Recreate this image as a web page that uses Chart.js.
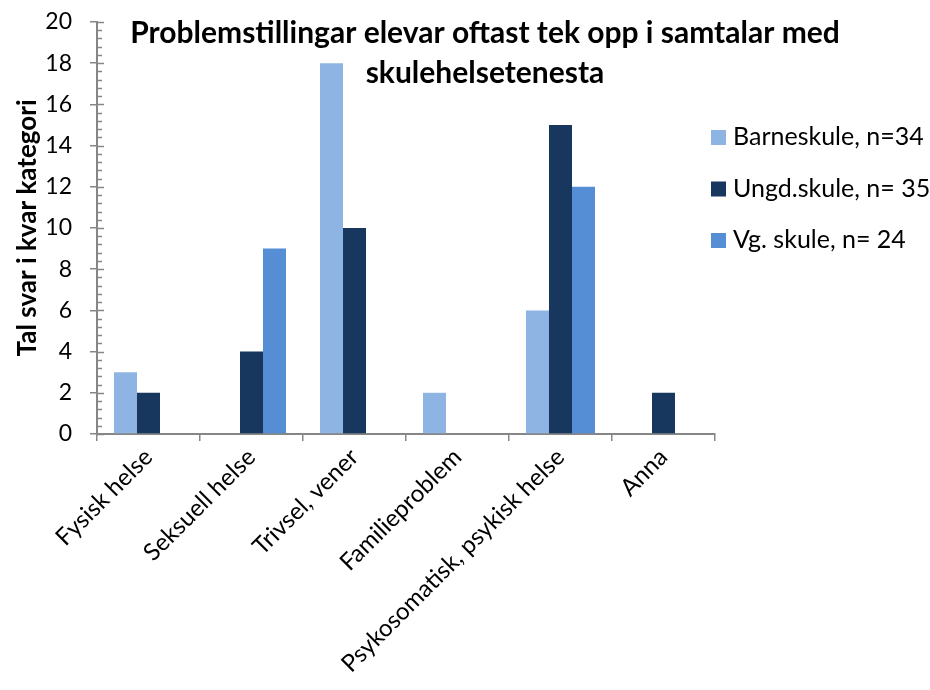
<!DOCTYPE html>
<html><head><meta charset="utf-8">
<script src="https://cdn.jsdelivr.net/npm/chart.js"></script>
<style>html,body{margin:0;padding:0;background:#fff}</style>
</head><body>
<canvas id="c" width="930" height="690"></canvas>
<script>
const categories = ['Fysisk helse','Seksuell helse','Trivsel, vener','Familieproblem','Psykosomatisk, psykisk helse','Anna'];
const seriesNames = ['Barneskule, n=34','Ungd.skule, n= 35','Vg. skule, n= 24'];
const barneskule = [3,0,18,2,6,0];
const ungdskule = [2,4,10,0,15,2];
const vgskule = [0,9,0,0,12,0];
const seriesColors = ['#8EB4E3','#17375E','#558ED5'];
const yMin = 0, yMax = 20, yStep = 2, yMinorStep = 0.4;
const titleLines = ['Problemstillingar elevar oftast tek opp i samtalar med','skulehelsetenesta'];
const yTitle = 'Tal svar i kvar kategori';

const FONT = 'Lato, "Open Sans", sans-serif';
const AXIS = '#868686';

const extras = {
  id: 'extras',
  afterDraw(chart) {
    const ctx = chart.ctx, ys = chart.scales.y, ca = chart.chartArea;
    ctx.save();
    ctx.strokeStyle = AXIS; ctx.lineWidth = 1.5;
    ctx.beginPath();
    for (let v = yMin; v <= yMax + 1e-9; v += yMinorStep) {
      const py = Math.round(ys.getPixelForValue(v)) + 0.5;
      const isMajor = Math.abs(v / yStep - Math.round(v / yStep)) < 1e-6;
      ctx.moveTo(ca.left, py); ctx.lineTo(ca.left + (isMajor ? 7 : 5), py);
    }
    ctx.stroke();
    ctx.fillStyle = '#000';
    ctx.font = 'bold 30px ' + FONT;
    ctx.textAlign = 'center'; ctx.textBaseline = 'middle';
    titleLines.forEach((t, i) => ctx.fillText(t, 485, 33 + i * 40));
    ctx.font = '25px ' + FONT;
    ctx.textAlign = 'left';
    chart.data.datasets.forEach((ds, i) => {
      const cy = 137 + i * 51.5;
      ctx.fillStyle = ds.backgroundColor;
      ctx.fillRect(711, cy - 7, 15, 15);
      ctx.fillStyle = '#000';
      ctx.fillText(ds.label, 733, cy);
    });
    ctx.restore();
  }
};

new Chart(document.getElementById('c'), {
  type: 'bar',
  data: {
    labels: categories,
    datasets: [
      { label: seriesNames[0], data: barneskule, backgroundColor: seriesColors[0] },
      { label: seriesNames[1], data: ungdskule, backgroundColor: seriesColors[1] },
      { label: seriesNames[2], data: vgskule, backgroundColor: seriesColors[2] }
    ]
  },
  options: {
    responsive: false,
    animation: false,
    layout: { padding: { top: 22, right: 215, left: 0, bottom: 0 } },
    plugins: { legend: { display: false }, title: { display: false }, tooltip: { enabled: false } },
    datasets: { bar: { categoryPercentage: 0.67, barPercentage: 1.0, borderWidth: 0 } },
    scales: {
      x: {
        offset: true,
        grid: { offset: true, drawOnChartArea: false, drawTicks: true, tickLength: 7, color: AXIS, lineWidth: 1.5 },
        border: { color: AXIS, width: 2 },
        ticks: { color: '#000', font: { family: FONT, size: 24 }, maxRotation: 45, minRotation: 45, autoSkip: false, padding: 2 },
        afterFit(s) { s.height = 256; }
      },
      y: {
        min: yMin, max: yMax,
        grid: { drawOnChartArea: false, drawTicks: true, tickLength: 7, color: AXIS, lineWidth: 1.5 },
        border: { color: AXIS, width: 2 },
        ticks: { stepSize: yStep, color: '#000', font: { family: FONT, size: 23 }, padding: 18 },
        title: { display: true, text: yTitle, color: '#000', font: { family: FONT, size: 26, weight: 'bold' }, padding: { top: 12, bottom: 0 } },
        afterFit(s) { s.width = 97; s.paddingTop = 0; s.paddingBottom = 0; }
      }
    }
  },
  plugins: [extras]
});
</script>
</body></html>
